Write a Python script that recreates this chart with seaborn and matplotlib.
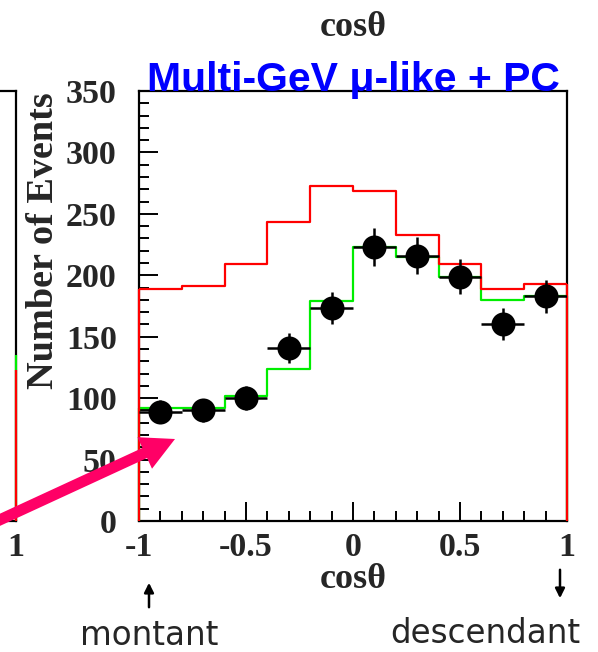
import numpy as np
import pandas as pd
import seaborn as sns
import matplotlib.pyplot as plt
from matplotlib.ticker import MultipleLocator

# --- data ---
bin_edges = [-1.0, -0.8, -0.6, -0.4, -0.2, 0.0, 0.2, 0.4, 0.6, 0.8, 1.0]
bin_centers = [-0.9, -0.7, -0.5, -0.3, -0.1, 0.1, 0.3, 0.5, 0.7, 0.9]
no_osc_mc = [189, 191, 209, 243, 273, 269, 233, 209, 189, 193]      # red
osc_mc = [92, 92, 102, 124, 179, 223, 215, 199, 180, 183]          # green
data_counts = [89, 90, 100, 141, 173, 223, 216, 199, 160, 183]     # black points
data_err = [9.5, 9.5, 10, 12, 13, 15.5, 15, 14, 13, 13.5]

# neighbour panel, only its right edge is visible on the left border
neighbour_red_end = 123
neighbour_green_end = 135

x_ticks = [-1, -0.5, 0, 0.5, 1]
x_tick_labels = ['-1', '-0.5', '0', '0.5', '1']
y_ticks = [0, 50, 100, 150, 200, 250, 300, 350]

df = pd.DataFrame({'cos': bin_centers, 'red': no_osc_mc, 'green': osc_mc,
                   'n': data_counts, 'err': data_err})

sns.set_style('ticks')
plt.rcParams['font.family'] = ['Liberation Serif', 'DejaVu Serif']

W, H = 598, 652
fig = plt.figure(figsize=(W / 100, H / 100), dpi=100)

# main axes position in pixels
L, R, T, B = 139, 567, 91, 521

# neighbour panel (cut off at the left border), drawn first so it stays behind
ax2 = fig.add_axes([16 / W - (R - L) / W, 1 - B / H, (R - L) / W, (B - T) / H])
ax2.patch.set_visible(False)
ax2.set_xlim(-1, 1)
ax2.set_ylim(0, 350)
ax2.vlines([1], 0, [neighbour_green_end], color='#00ee00', linewidth=1.6,
           zorder=3, clip_on=False)
ax2.vlines([1], 0, [neighbour_red_end], color='#ff0000', linewidth=1.6,
           zorder=3.1, clip_on=False)
ax2.set_xticks([1])
ax2.set_xticklabels(['1'])
ax2.set_yticks([])
ax2.tick_params(axis='x', direction='in', length=0, pad=8, labelsize=24.5)
for lab in ax2.get_xticklabels():
    lab.set_fontweight('bold')
for sp in ax2.spines.values():
    sp.set_linewidth(1.6)
    sp.set_color('black')

ax = fig.add_axes([L / W, 1 - B / H, (R - L) / W, (B - T) / H])
ax.patch.set_visible(False)


def step_hist(axis, x, w, edges, color, z):
    sns.histplot(x=x, weights=w, bins=edges, element='step', fill=False,
                 color=color, linewidth=1.6, ax=axis, zorder=z)
    # close the outline down to zero at both ends
    axis.vlines([edges[0], edges[-1]], 0, [w.iloc[0], w.iloc[-1]], color=color,
                linewidth=1.6, zorder=z, clip_on=False)


step_hist(ax, df['cos'], df['green'], bin_edges, '#00ee00', 3)
step_hist(ax, df['cos'], df['red'], bin_edges, '#ff0000', 3.2)

ax.errorbar(df['cos'], df['n'], xerr=0.1, yerr=df['err'], fmt='none',
            ecolor='black', elinewidth=1.8, capsize=0, zorder=4)
sns.scatterplot(data=df, x='cos', y='n', color='black', s=300,
                edgecolor='black', linewidth=0, ax=ax, zorder=5)

ax.set_xlim(-1, 1)
ax.set_ylim(0, 350)
ax.set_xticks(x_ticks)
ax.set_xticklabels(x_tick_labels)
ax.set_yticks(y_ticks)
ax.xaxis.set_minor_locator(MultipleLocator(0.1))
ax.yaxis.set_minor_locator(MultipleLocator(10))
ax.tick_params(which='both', direction='in', top=False, right=False,
               width=1.4, color='black')
ax.tick_params(which='major', length=14)
ax.tick_params(which='minor', length=7)
ax.tick_params(axis='y', which='major', pad=16, labelsize=24.5)
ax.tick_params(axis='x', which='major', pad=8, labelsize=24.5)
for lab in ax.get_xticklabels() + ax.get_yticklabels():
    lab.set_fontweight('bold')
for sp in ax.spines.values():
    sp.set_visible(True)
    sp.set_linewidth(1.6)
    sp.set_color('black')
    sp.set_zorder(2)

ax.set_xlabel('cos\u03b8', fontsize=26, fontweight='bold', labelpad=0)
ax.set_ylabel('Number of Events', fontsize=27.5, fontweight='bold')
ax.yaxis.set_label_coords(-0.183, 0.653)

ax.text(0.5, 1.0, 'Multi-GeV \u03bc-like + PC', transform=ax.transAxes,
        ha='center', va='baseline', fontsize=29.5, fontweight='bold',
        color='#0000ff', family=['Liberation Sans', 'DejaVu Sans'])
fig.text(353 / W, 1 - 28 / H, 'cos\u03b8', ha='center', va='center',
         fontsize=26, fontweight='bold')

# pink arrow
fig.add_artist(plt.Annotation(
    '', xy=(175 / W, 1 - 439 / H), xycoords='figure fraction',
    xytext=(-20 / W, 1 - 529 / H), textcoords='figure fraction',
    arrowprops=dict(facecolor='#ff0066', edgecolor='none', width=8,
                    headwidth=25, headlength=24, shrink=0)))

# direction notes
fig.text(149 / W, 1 - 645 / H, 'montant', ha='center', va='baseline',
         fontsize=23.5, family='DejaVu Sans')
fig.text(485 / W, 1 - 643 / H, 'descendant', ha='center', va='baseline',
         fontsize=23.5, family='DejaVu Sans')
fig.add_artist(plt.Annotation(
    '', xy=(149 / W, 1 - 580 / H), xycoords='figure fraction',
    xytext=(149 / W, 1 - 610 / H), textcoords='figure fraction',
    arrowprops=dict(arrowstyle='-|>', color='black', lw=1.8, mutation_scale=14)))
fig.add_artist(plt.Annotation(
    '', xy=(560 / W, 1 - 601 / H), xycoords='figure fraction',
    xytext=(560 / W, 1 - 567 / H), textcoords='figure fraction',
    arrowprops=dict(arrowstyle='-|>', color='black', lw=1.8, mutation_scale=14)))

fig.savefig('out.png', dpi=100)
